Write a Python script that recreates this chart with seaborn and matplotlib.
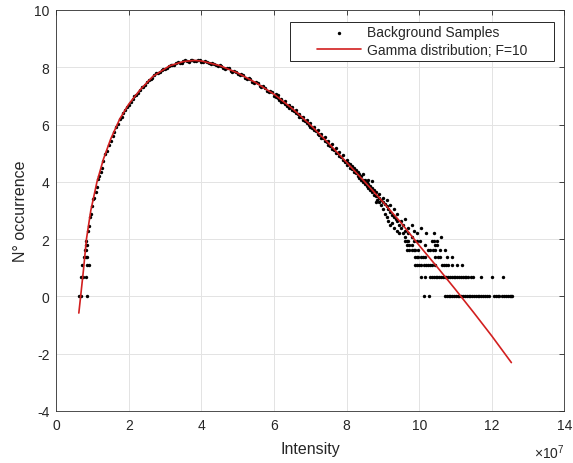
import numpy as np
import pandas as pd
import matplotlib
matplotlib.use('Agg')
import matplotlib.pyplot as plt
import seaborn as sns
from matplotlib.patches import Rectangle

# Curva gamma ajustada (x em unidades de 1e7, y = ln(ocorrencias))
curve_x = [0.62, 0.67, 0.75, 0.83, 0.95, 1.12, 1.3, 1.5, 1.75, 2.0, 2.3, 2.66, 3.12, 3.5,
           3.8, 4.0, 4.5, 5.0, 5.5, 6.0, 6.5, 7.0, 7.5, 8.0, 8.5, 9.0, 9.5, 10.0, 10.5,
           11.0, 11.5, 12.0, 12.54]
curve_y = [-0.58, 0.0, 0.95, 2.0, 3.0, 4.0, 4.8, 5.5, 6.2, 6.72, 7.2, 7.68, 8.05, 8.2,
           8.24, 8.22, 8.06, 7.8, 7.46, 7.06, 6.56, 5.99, 5.35, 4.68, 4.0, 3.3, 2.57, 1.78,
           1.02, 0.24, -0.56, -1.38, -2.31]

# Amostras de fundo - subida inicial
rise_x = [0.62, 0.69, 0.85, 0.68, 0.73, 0.81, 0.72, 0.84, 0.90, 0.76, 0.82, 0.85, 0.79, 0.83,
          0.81, 0.85, 0.82, 0.88, 0.90, 0.93, 0.95, 0.97, 1.01, 1.04, 1.08, 1.11, 1.15, 1.18,
          1.22, 1.25]
rise_y = [0.0, 0.0, 0.0, 0.69, 0.69, 0.69, 1.10, 1.10, 1.10, 1.39, 1.39, 1.39, 1.61, 1.61,
          1.79, 1.79, 1.95, 2.30, 2.47, 2.77, 2.89, 3.14, 3.40, 3.45, 3.64, 3.81, 4.10, 4.22,
          4.36, 4.48]

# Amostras junto ao pico
band_x = [1.3, 1.4, 1.5, 1.6, 1.7, 1.8, 1.9, 2.0, 2.1, 2.2, 2.3, 2.4, 2.5, 2.6, 2.7, 2.8,
          2.9, 3.0, 3.1, 3.2, 3.3, 3.4, 3.5, 3.6, 3.7, 3.8, 3.9, 4.0, 4.1, 4.2, 4.3, 4.4,
          4.5, 4.6, 4.7, 4.8, 4.9, 5.0, 5.1, 5.2, 5.3, 5.4, 5.5, 5.6, 5.7, 5.8, 5.9, 6.0,
          1.35, 1.45, 1.55, 1.65, 1.75, 1.85, 1.95, 2.05, 2.15, 2.25, 2.35, 2.45, 2.55, 2.65,
          2.75, 2.85, 2.95, 3.05, 3.15, 3.25, 3.35, 3.45, 3.55, 3.65, 3.75, 3.85, 3.95, 4.05,
          4.15, 4.25, 4.35, 4.45, 4.55, 4.65, 4.75, 4.85, 4.95, 5.05, 5.15, 5.25, 5.35, 5.45,
          5.55, 5.65, 5.75, 5.85, 5.95]
band_y = [4.74, 5.08, 5.42, 5.74, 6.02, 6.27, 6.50, 6.69, 6.90, 7.02, 7.22, 7.31, 7.49, 7.58,
          7.74, 7.79, 7.91, 7.94, 8.06, 8.07, 8.15, 8.16, 8.22, 8.21, 8.25, 8.22, 8.25, 8.20,
          8.21, 8.14, 8.15, 8.07, 8.08, 7.98, 7.98, 7.87, 7.88, 7.77, 7.76, 7.63, 7.63, 7.50,
          7.49, 7.34, 7.33, 7.18, 7.17, 7.01,
          4.98, 5.30, 5.60, 5.93, 6.18, 6.42, 6.63, 6.78, 6.98, 7.10, 7.30, 7.38, 7.57, 7.64,
          7.79, 7.83, 7.95, 7.98, 8.09, 8.09, 8.17, 8.16, 8.24, 8.20, 8.26, 8.21, 8.24, 8.18,
          8.20, 8.12, 8.13, 8.05, 8.06, 7.95, 7.96, 7.85, 7.85, 7.74, 7.72, 7.60, 7.59, 7.46,
          7.45, 7.30, 7.29, 7.14, 7.12]

# Amostras na descida (6 a 8)
fall_x = [6.05, 6.05, 6.1, 6.1, 6.15, 6.2, 6.2, 6.25, 6.3, 6.3, 6.35, 6.4, 6.4, 6.45, 6.5,
          6.5, 6.55, 6.6, 6.6, 6.65, 6.7, 6.7, 6.75, 6.8, 6.8, 6.85, 6.9, 6.9, 6.95, 7.0,
          7.0, 7.05, 7.1, 7.1, 7.15, 7.2, 7.2, 7.25, 7.3, 7.3, 7.35, 7.4, 7.4, 7.45, 7.5,
          7.5, 7.55, 7.6, 7.6, 7.65, 7.7, 7.7, 7.75, 7.8, 7.8, 7.85, 7.9, 7.9, 7.95]
fall_y = [7.05, 6.95, 6.93, 7.02, 6.86, 6.90, 6.80, 6.78, 6.72, 6.82, 6.66, 6.70, 6.58, 6.60,
          6.52, 6.62, 6.47, 6.40, 6.50, 6.36, 6.38, 6.27, 6.25, 6.17, 6.28, 6.12, 6.04, 6.16,
          6.00, 5.93, 6.05, 5.88, 5.80, 5.92, 5.78, 5.68, 5.80, 5.62, 5.66, 5.53, 5.52, 5.42,
          5.56, 5.40, 5.30, 5.44, 5.25, 5.16, 5.32, 5.12, 5.18, 5.02, 5.00, 4.90, 5.05, 4.86,
          4.76, 4.92, 4.70]

# Cauda com mais dispersao (8 a 10.6)
tail_x = [8.0, 8.0, 8.05, 8.1, 8.1, 8.15, 8.15, 8.2, 8.2, 8.25, 8.25, 8.3, 8.3, 8.35, 8.35,
          8.4, 8.4, 8.45, 8.45, 8.45, 8.5, 8.5, 8.55, 8.55, 8.6, 8.6, 8.6, 8.65, 8.65, 8.7,
          8.7, 8.7, 8.75, 8.75, 8.8, 8.8, 8.8, 8.85, 8.85, 8.9, 8.9, 8.9, 8.95, 8.95, 9.0,
          9.0, 9.0, 9.05, 9.05, 9.1, 9.1, 9.1, 9.15, 9.15, 9.2, 9.2, 9.2, 9.25, 9.25, 9.3,
          9.3, 9.3, 9.35, 9.4, 9.4, 9.4, 9.45, 9.45, 9.5, 9.5, 9.55, 9.55, 9.6, 9.6, 9.6,
          9.7, 9.7, 9.8, 9.8, 9.85, 9.95, 10.05, 10.2, 10.4, 10.6]
tail_y = [4.76, 4.60, 4.66, 4.48, 4.62, 4.44, 4.55, 4.34, 4.50, 4.30, 4.42, 4.20, 4.36, 4.14,
          4.28, 4.05, 4.22, 3.98, 4.08, 4.26, 3.92, 4.06, 3.86, 4.00, 3.78, 3.92, 4.08, 3.72,
          3.84, 3.64, 3.78, 4.02, 3.55, 3.70, 3.50, 3.64, 3.30, 3.52, 3.38, 3.44, 3.28, 3.58,
          3.36, 3.20, 3.30, 3.42, 3.05, 3.22, 2.89, 3.14, 2.77, 3.36, 3.04, 2.64, 2.94, 2.48,
          3.18, 2.83, 2.56, 2.77, 3.04, 2.40, 2.71, 2.64, 2.89, 2.30, 2.48, 2.20, 2.64, 2.40,
          2.48, 2.20, 2.30, 2.71, 2.08, 2.40, 2.20, 2.48, 2.08, 2.30, 2.20, 2.40, 2.20, 2.20,
          2.08]

# Contagens baixas: linhas quantizadas em ln(n)
q_levels = [0.0, 0.69, 1.10, 1.39, 1.61, 1.79, 1.95]
q1_x = [10.13, 10.28, 10.71, 10.76, 10.81, 10.86, 10.91, 10.96, 11.01, 11.06, 11.11, 11.16,
        11.21, 11.26, 11.31, 11.36, 11.41, 11.46, 11.51, 11.56, 11.61, 11.66, 11.71, 11.76,
        11.81, 11.86, 11.91, 12.06, 12.11, 12.16, 12.2, 12.29, 12.34, 12.39, 12.44, 12.49,
        12.53, 12.57]
q2_x = [10.06, 10.16, 10.30, 10.35, 10.40, 10.45, 10.50, 10.55, 10.60, 10.65, 10.70, 10.75,
        10.80, 10.85, 10.90, 10.95, 11.00, 11.05, 11.10, 11.15, 11.20, 11.25, 11.30, 11.35,
        11.42, 11.47, 11.69, 12.0, 12.3]
q3_x = [9.88, 9.94, 10.0, 10.06, 10.12, 10.18, 10.24, 10.30, 10.36, 10.44, 10.62, 10.68,
        10.74, 10.80, 10.9, 11.03, 11.19]
q4_x = [9.88, 9.93, 9.98, 10.04, 10.10, 10.16, 10.44, 10.52, 10.57, 10.76, 10.9]
q5_x = [9.66, 9.72, 9.79, 9.85, 9.88, 9.98, 10.25, 10.31, 10.37, 10.44, 10.57, 10.71]
q6_x = [9.66, 9.72, 9.79, 10.16, 10.44, 10.48]
q7_x = [9.61, 9.66, 9.70, 9.87, 9.93, 10.02, 10.34, 10.40, 10.48]


def juntar_amostras():
    """Junta todos os grupos de amostras num unico DataFrame."""
    xs = rise_x + band_x + fall_x + tail_x
    ys = rise_y + band_y + fall_y + tail_y
    for nivel, linha in zip(q_levels, [q1_x, q2_x, q3_x, q4_x, q5_x, q6_x, q7_x]):
        xs = xs + linha
        ys = ys + [nivel] * len(linha)
    return pd.DataFrame({'Intensity': xs, 'count': ys})


def desenhar():
    sns.set_theme(style='white')
    plt.rcParams['font.family'] = ['Liberation Sans', 'DejaVu Sans']
    plt.rcParams['mathtext.fontset'] = 'custom'
    plt.rcParams['mathtext.rm'] = 'Liberation Sans'
    plt.rcParams['axes.unicode_minus'] = False

    df = juntar_amostras()
    df_curve = pd.DataFrame({'Intensity': curve_x, 'count': curve_y})

    fig = plt.figure(figsize=(5.73, 4.64), dpi=100)
    ax = fig.add_axes([0.0983, 0.1121, 0.8866, 0.8642])

    sns.scatterplot(data=df, x='Intensity', y='count', ax=ax, color='black', s=6,
                    marker='o', linewidth=0, label='Background Samples', zorder=2)
    sns.lineplot(data=df_curve, x='Intensity', y='count', ax=ax, color='#d21f1f', lw=1.2,
                 estimator=None, sort=False, label='Gamma distribution; F=10', zorder=3)

    ax.set_xlim(0, 14)
    ax.set_ylim(-4, 10)
    ax.set_xticks(np.arange(0, 15, 2))
    ax.set_yticks(np.arange(-4, 11, 2))
    ax.grid(True, color='#e3e3e3', lw=0.7)
    ax.set_axisbelow(True)
    ax.tick_params(direction='in', top=True, right=True, length=3.5, width=0.6,
                   labelsize=10, colors='#262626', pad=5)
    for s in ax.spines.values():
        s.set_color('#303030')
        s.set_linewidth(0.6)

    ax.set_xlabel('Intensity', fontsize=11.5, color='#262626')
    ax.set_ylabel('N° occurrence', fontsize=11.5, color='#262626')
    ax.xaxis.set_label_coords(0.5, -0.075)
    ax.yaxis.set_label_coords(-0.056, 0.5)
    fig.text(0.986, 0.005, r'$\times10^{7}$', ha='right', va='bottom', fontsize=10,
             color='#262626')

    # caixa da legenda ao estilo MATLAB
    ax.add_patch(Rectangle((0.46, 0.872), 0.52, 0.099, transform=ax.transAxes,
                           facecolor='white', edgecolor='#262626', lw=0.7, zorder=4))
    ax.legend(loc='upper left', bbox_to_anchor=(0.5126, 0.962), borderaxespad=0,
              borderpad=0, frameon=False, fontsize=10, handlelength=3.2,
              handletextpad=0.4, labelspacing=0.25)

    fig.savefig('out.png', dpi=100)
    plt.close(fig)


if __name__ == "__main__":
    desenhar()
